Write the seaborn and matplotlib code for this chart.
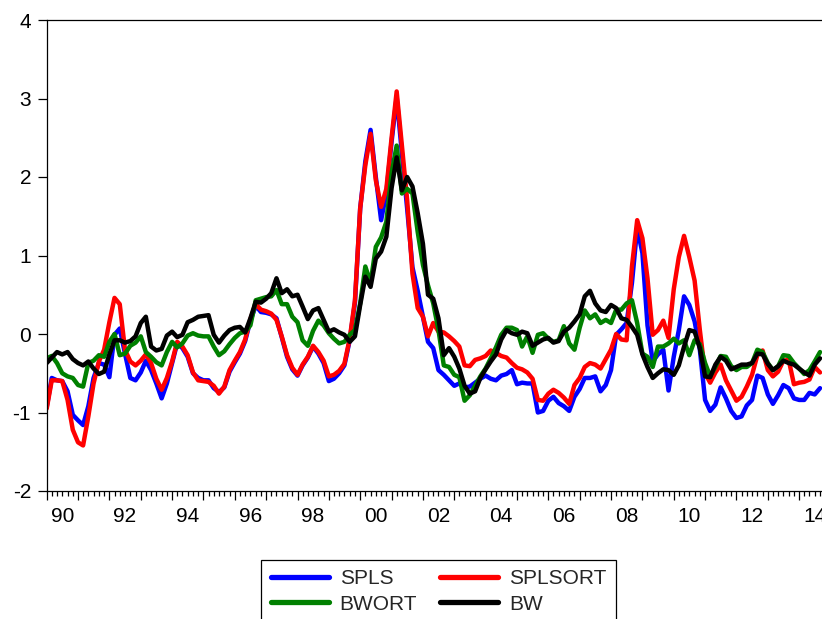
import matplotlib
matplotlib.use("Agg")
import matplotlib.pyplot as plt
import matplotlib.dates as mdates
from matplotlib.lines import Line2D
import seaborn as sns
import pandas as pd

# ---------------- data (bi-monthly readings, Jan 1990 .. Sep 2014) ----------------
start_date = "1990-01-01"
n_obs = 149

SPLSORT = [
    -0.95, -0.59, -0.59, -0.60, -0.84, -1.22, -1.38, -1.42, -1.05, -0.63,
    -0.35, -0.20, 0.15, 0.46, 0.38, -0.20, -0.35, -0.40, -0.34, -0.26,
    -0.37, -0.57, -0.71, -0.56, -0.35, -0.10, -0.16, -0.27, -0.49, -0.59,
    -0.60, -0.61, -0.66, -0.76, -0.67, -0.46, -0.34, -0.23, -0.07, 0.19,
    0.38, 0.31, 0.29, 0.26, 0.18, -0.03, -0.27, -0.43, -0.52, -0.39,
    -0.29, -0.15, -0.23, -0.34, -0.54, -0.52, -0.47, -0.38, -0.06, 0.43,
    1.60, 2.15, 2.55, 1.96, 1.62, 1.85, 2.50, 3.09, 2.40, 1.71,
    0.77, 0.33, 0.22, -0.03, 0.14, 0.03, 0.02, -0.03, -0.09, -0.16,
    -0.40, -0.41, -0.33, -0.31, -0.28, -0.21, -0.24, -0.28, -0.30, -0.37,
    -0.43, -0.45, -0.49, -0.57, -0.84, -0.85, -0.76, -0.71, -0.75, -0.81,
    -0.89, -0.65, -0.56, -0.42, -0.37, -0.39, -0.44, -0.32, -0.20, 0.00,
    -0.07, -0.08, 0.86, 1.45, 1.22, 0.71, -0.01, 0.05, 0.17, -0.05,
    0.57, 0.98, 1.25, 0.98, 0.68, 0.05, -0.50, -0.62, -0.49, -0.39,
    -0.59, -0.72, -0.85, -0.80, -0.67, -0.52, -0.27, -0.21, -0.46, -0.54,
    -0.48, -0.34, -0.33, -0.64, -0.62, -0.61, -0.58, -0.42, -0.49,
]

SPLS = [
    -0.93, -0.56, -0.59, -0.60, -0.73, -1.03, -1.10, -1.16, -0.92, -0.56,
    -0.37, -0.39, -0.55, -0.01, 0.07, -0.25, -0.56, -0.59, -0.49, -0.34,
    -0.46, -0.63, -0.82, -0.63, -0.37, -0.12, -0.18, -0.29, -0.50, -0.56,
    -0.59, -0.59, -0.69, -0.74, -0.68, -0.48, -0.36, -0.25, -0.09, 0.17,
    0.36, 0.28, 0.27, 0.25, 0.20, -0.04, -0.29, -0.45, -0.53, -0.40,
    -0.30, -0.16, -0.25, -0.37, -0.60, -0.57, -0.50, -0.40, -0.08, 0.40,
    1.60, 2.20, 2.60, 2.00, 1.45, 1.80, 2.45, 3.02, 2.30, 1.60,
    0.85, 0.55, 0.22, -0.10, -0.18, -0.46, -0.52, -0.59, -0.66, -0.63,
    -0.68, -0.67, -0.62, -0.57, -0.53, -0.57, -0.59, -0.53, -0.51, -0.46,
    -0.64, -0.62, -0.63, -0.63, -1.00, -0.98, -0.85, -0.80, -0.88, -0.92,
    -0.98, -0.80, -0.70, -0.56, -0.56, -0.54, -0.73, -0.65, -0.46, -0.01,
    0.06, 0.14, 0.65, 1.35, 1.03, 0.11, -0.35, -0.26, -0.20, -0.72,
    -0.29, 0.05, 0.48, 0.37, 0.16, -0.20, -0.84, -0.98, -0.90, -0.68,
    -0.82, -0.98, -1.07, -1.05, -0.91, -0.84, -0.53, -0.56, -0.77, -0.89,
    -0.78, -0.65, -0.69, -0.82, -0.84, -0.84, -0.75, -0.77, -0.69,
]

BWORT = [
    -0.31, -0.28, -0.37, -0.50, -0.54, -0.56, -0.65, -0.67, -0.37, -0.34,
    -0.27, -0.29, -0.10, 0.00, -0.27, -0.25, -0.15, -0.11, -0.03, -0.23,
    -0.29, -0.36, -0.40, -0.23, -0.10, -0.17, -0.12, -0.02, 0.01, -0.02,
    -0.03, -0.03, -0.16, -0.27, -0.22, -0.13, -0.05, 0.01, 0.03, 0.11,
    0.43, 0.45, 0.47, 0.48, 0.56, 0.38, 0.38, 0.22, 0.15, -0.08,
    -0.15, 0.04, 0.17, 0.11, 0.01, -0.06, -0.12, -0.10, -0.01, 0.05,
    0.39, 0.86, 0.65, 1.11, 1.23, 1.43, 2.05, 2.40, 1.79, 1.85,
    1.79, 1.30, 0.88, 0.62, 0.39, 0.05, -0.40, -0.42, -0.52, -0.55,
    -0.85, -0.78, -0.66, -0.54, -0.44, -0.31, -0.17, -0.01, 0.08, 0.08,
    0.05, -0.16, -0.03, -0.24, -0.01, 0.01, -0.06, -0.10, -0.08, 0.10,
    -0.12, -0.20, 0.08, 0.30, 0.20, 0.25, 0.14, 0.18, 0.14, 0.31,
    0.31, 0.39, 0.43, 0.14, -0.25, -0.29, -0.42, -0.16, -0.16, -0.12,
    -0.06, -0.12, -0.08, -0.27, -0.08, -0.13, -0.37, -0.54, -0.42, -0.28,
    -0.29, -0.41, -0.46, -0.42, -0.42, -0.37, -0.20, -0.23, -0.37, -0.46,
    -0.41, -0.27, -0.28, -0.37, -0.44, -0.51, -0.46, -0.35, -0.23,
]

BW = [
    -0.37, -0.30, -0.23, -0.26, -0.23, -0.32, -0.37, -0.40, -0.35, -0.44,
    -0.51, -0.48, -0.26, -0.08, -0.08, -0.11, -0.09, -0.03, 0.14, 0.22,
    -0.16, -0.21, -0.19, -0.02, 0.03, -0.04, -0.01, 0.15, 0.18, 0.22,
    0.23, 0.24, -0.01, -0.11, -0.02, 0.05, 0.08, 0.09, 0.02, 0.20,
    0.41, 0.40, 0.45, 0.52, 0.71, 0.52, 0.57, 0.48, 0.50, 0.35,
    0.19, 0.30, 0.33, 0.18, 0.03, 0.06, 0.02, -0.01, -0.10, -0.03,
    0.37, 0.73, 0.60, 0.96, 1.05, 1.24, 1.86, 2.25, 1.83, 2.00,
    1.88, 1.54, 1.15, 0.50, 0.45, 0.20, -0.27, -0.18, -0.29, -0.44,
    -0.66, -0.76, -0.73, -0.56, -0.45, -0.35, -0.26, -0.07, 0.05, 0.01,
    -0.01, 0.03, 0.01, -0.15, -0.11, -0.07, -0.05, -0.11, -0.09, 0.03,
    0.08, 0.16, 0.25, 0.48, 0.55, 0.39, 0.30, 0.28, 0.37, 0.33,
    0.20, 0.18, 0.09, -0.01, -0.26, -0.42, -0.56, -0.50, -0.45, -0.46,
    -0.52, -0.40, -0.16, 0.05, 0.03, -0.18, -0.54, -0.55, -0.39, -0.29,
    -0.34, -0.45, -0.42, -0.39, -0.39, -0.37, -0.25, -0.26, -0.38, -0.46,
    -0.41, -0.34, -0.37, -0.39, -0.44, -0.49, -0.53, -0.39, -0.31,
]

series_names = ["SPLS", "SPLSORT", "BWORT", "BW"]
series_colors = ["#0000FF", "#FF0000", "#008000", "#000000"]
y_ticks = [-2, -1, 0, 1, 2, 3, 4]
x_label_years = list(range(1990, 2015, 2))
x_labels = [f"{y % 100:02d}" for y in x_label_years]

# ---------------- build table ----------------
dates = pd.date_range(start_date, periods=n_obs, freq="2MS")
wide = pd.DataFrame({"date": dates, "SPLS": SPLS, "SPLSORT": SPLSORT,
                     "BWORT": BWORT, "BW": BW})
df = wide.melt(id_vars="date", var_name="series", value_name="value")

# ---------------- plot ----------------
sns.set_theme(style="white")
plt.rcParams["font.family"] = ["Liberation Sans", "DejaVu Sans"]

W, H = 822, 619
FS = 15
fig = plt.figure(figsize=(W / 100, H / 100), dpi=100)
left_px, top_px, bottom_px = 46.7, 20, 491
ax = fig.add_axes([left_px / W, (H - bottom_px) / H, 1 - left_px / W,
                   (bottom_px - top_px) / H])

sns.lineplot(data=df, x="date", y="value", hue="series",
             hue_order=series_names, palette=series_colors,
             linewidth=3.2, estimator=None, legend=False, ax=ax)

ax.set_xlim(pd.Timestamp("1990-01-01"), pd.Timestamp("2014-09-24"))
ax.set_ylim(-2, 4)
ax.set_xlabel("")
ax.set_ylabel("")

for s in ["left", "bottom", "top"]:
    ax.spines[s].set_visible(True)
    ax.spines[s].set_color("black")
    ax.spines[s].set_linewidth(0.9)
ax.spines["right"].set_visible(False)

ax.set_yticks(y_ticks)
ax.set_yticklabels([str(v) for v in y_ticks])
ax.tick_params(axis="y", which="major", direction="out", length=6.8, width=0.9,
               color="black", pad=4.5, labelsize=FS, labelcolor="black", left=True)

ax.xaxis.set_major_locator(mdates.YearLocator(1))
ax.xaxis.set_minor_locator(mdates.MonthLocator(bymonth=[3, 5, 7, 9, 11]))
ax.tick_params(axis="x", which="major", direction="out", length=6.5, width=0.9,
               color="black", labelbottom=False, bottom=True)
ax.tick_params(axis="x", which="minor", direction="out", length=3.5, width=0.9,
               color="black", bottom=True)

sec = ax.secondary_xaxis("bottom")
sec.set_xticks([mdates.date2num(pd.Timestamp(f"{y}-07-01")) for y in x_label_years])
sec.set_xticklabels(x_labels)
sec.tick_params(axis="x", length=0, pad=11.5, labelsize=FS, labelcolor="black")
sec.spines["bottom"].set_visible(False)

handles = [Line2D([], [], color=c, lw=3.8) for c in series_colors]
order = [0, 2, 1, 3]
leg = fig.legend([handles[i] for i in order], [series_names[i] for i in order],
                 ncol=2, loc="upper center", bbox_to_anchor=(438.5 / W, 1 - 560 / H),
                 frameon=True, fancybox=False, shadow=False, edgecolor="black",
                 fontsize=FS, handlelength=2.8, handletextpad=0.5,
                 columnspacing=1.1, borderpad=0.45, labelspacing=0.3,
                 borderaxespad=0)
leg.get_frame().set_linewidth(0.9)
leg.get_frame().set_alpha(1)

fig.savefig("out.png", dpi=100)
